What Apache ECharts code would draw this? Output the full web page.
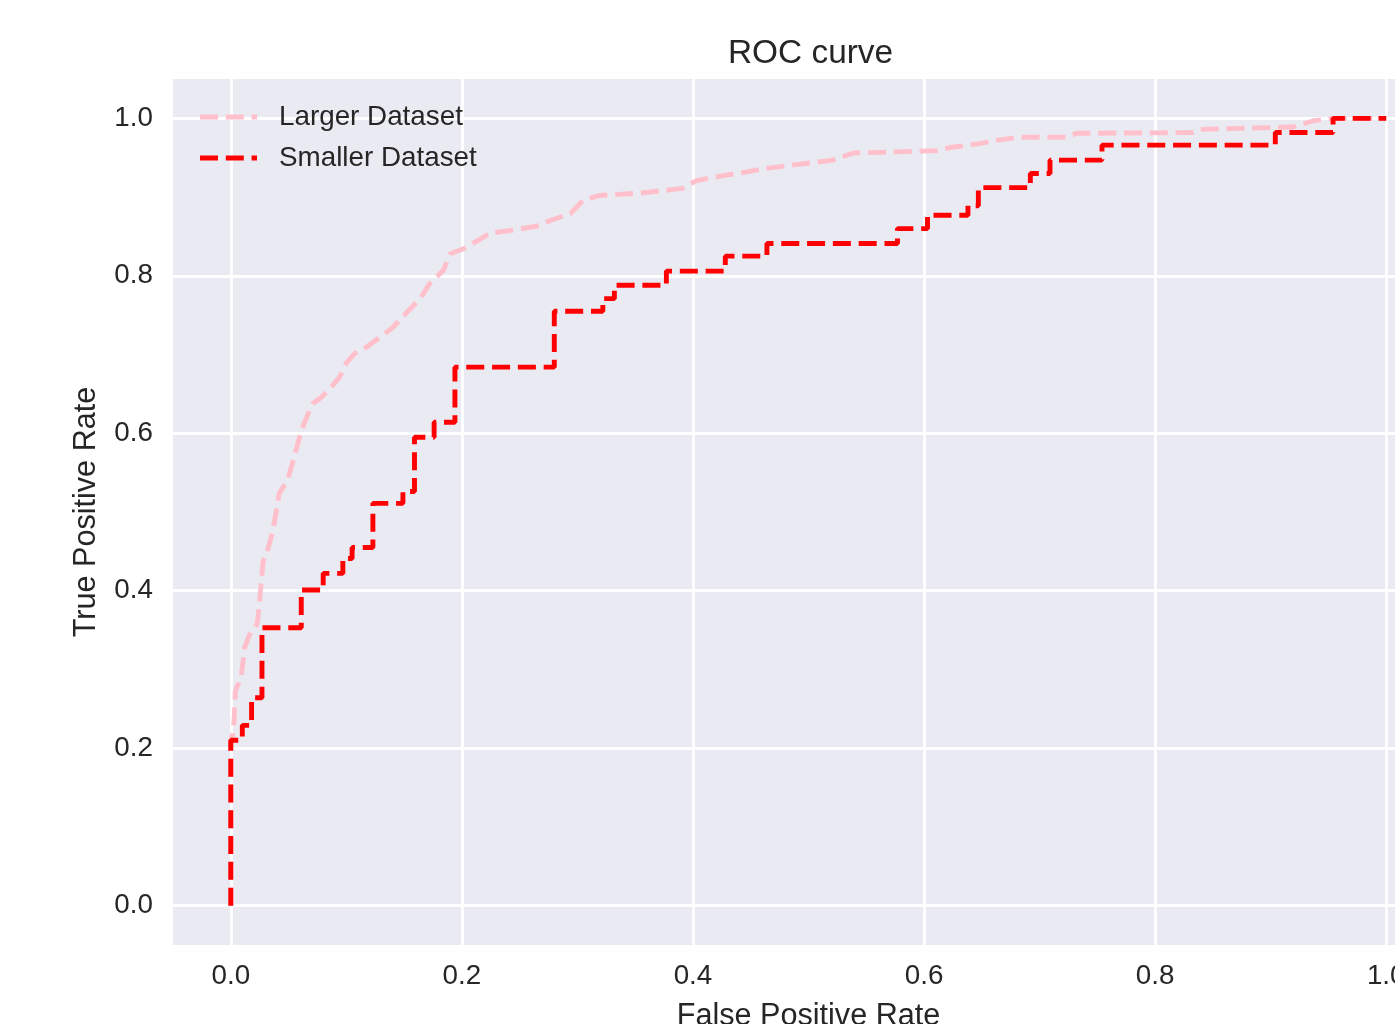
<!DOCTYPE html>
<html><head><meta charset="utf-8">
<script src="https://cdn.jsdelivr.net/npm/echarts@6/dist/echarts.min.js"></script>
<style>html,body{margin:0;padding:0;overflow:hidden;background:#fff;width:1395px;height:1024px}#c{width:1500px;height:1024px}</style>
</head><body><div id="c"></div>
<script>
const xTicks = [0, 0.2, 0.4, 0.6, 0.8, 1.0];
const yTicks = [0, 0.2, 0.4, 0.6, 0.8, 1.0];

const largerFpr = [0,0,0.002,0.003,0.004,0.009,0.012,0.017,0.023,0.026,0.028,0.030,0.035,0.038,0.042,0.049,0.054,0.058,0.062,0.067,0.071,0.078,0.086,0.094,0.100,0.107,0.117,0.129,0.140,0.152,0.164,0.172,0.184,0.190,0.204,0.224,0.244,0.268,0.276,0.294,0.305,0.319,0.354,0.391,0.403,0.429,0.443,0.461,0.499,0.521,0.539,0.565,0.611,0.623,0.648,0.663,0.681,0.724,0.732,0.833,0.839,0.865,0.919,0.937,0.954,1.0];
const largerTpr = [0,0.210,0.219,0.239,0.273,0.290,0.328,0.347,0.358,0.404,0.438,0.442,0.468,0.489,0.524,0.540,0.565,0.587,0.607,0.625,0.638,0.645,0.657,0.671,0.689,0.701,0.709,0.722,0.734,0.753,0.771,0.790,0.807,0.828,0.836,0.854,0.858,0.864,0.870,0.879,0.896,0.902,0.905,0.911,0.921,0.928,0.931,0.936,0.943,0.947,0.956,0.957,0.959,0.963,0.968,0.972,0.976,0.976,0.981,0.982,0.986,0.987,0.989,0.997,1.0,1.0];

const smallerFpr = [0,0,0.010,0.018,0.027,0.061,0.080,0.097,0.105,0.123,0.149,0.159,0.176,0.194,0.280,0.322,0.332,0.377,0.428,0.464,0.577,0.603,0.638,0.647,0.692,0.709,0.754,0.904,0.954,1.0];
const smallerTpr = [0,0.210,0.229,0.264,0.353,0.401,0.422,0.441,0.455,0.511,0.526,0.595,0.614,0.684,0.755,0.771,0.788,0.806,0.825,0.841,0.860,0.877,0.889,0.912,0.930,0.947,0.966,0.982,1.0,1.0];

const seriesNames = ['Larger Dataset', 'Smaller Dataset'];
const seriesColors = ['#FFC0CB', '#FF0000'];

const TXT = '#262626';
const FONT = '"Liberation Sans", Arial, sans-serif';
const pair = (xs, ys) => xs.map((x, i) => [x, ys[i]]);
const dashIcon = 'path://M0,0h18v5h-18z M25.8,0h18v5h-18z M51.6,0h5.4v5h-5.4z';

const chart = echarts.init(document.getElementById('c'), null, {renderer: 'canvas'});
chart.setOption({
  animation: false,
  backgroundColor: '#ffffff',
  textStyle: {fontFamily: FONT, color: TXT},
  title: {
    text: 'ROC curve', left: 723, top: 32,
    textStyle: {fontSize: 33.4, fontWeight: 'normal', color: TXT, fontFamily: FONT}
  },
  legend: {
    orient: 'vertical', left: 195, top: 98,
    itemWidth: 57, itemHeight: 5, itemGap: 13,
    textStyle: {fontSize: 27.8, color: TXT, fontFamily: FONT, lineHeight: 28, padding: [0,0,0,17]},
    data: seriesNames.map((n, i) => ({name: n, icon: dashIcon, itemStyle: {color: seriesColors[i]}}))
  },
  grid: {left: 173, top: 79, width: 1271, height: 866, containLabel: false, outerBoundsMode: 'none',
         show: true, backgroundColor: '#EAEAF2', borderWidth: 0},
  xAxis: {
    type: 'value', min: -0.05, max: 1.05,
    name: 'False Positive Rate', nameLocation: 'middle', nameGap: 56,
    nameTextStyle: {fontSize: 30.6, color: TXT, fontFamily: FONT},
    axisLine: {show: false},
    axisTick: {show: false, customValues: xTicks},
    axisLabel: {customValues: xTicks, formatter: v => v.toFixed(1), fontSize: 27.8, color: TXT, margin: 17, fontFamily: FONT},
    splitLine: {show: true, lineStyle: {color: '#ffffff', width: 2.8}}
  },
  yAxis: {
    type: 'value', min: -0.05, max: 1.05,
    name: 'True Positive Rate', nameLocation: 'middle', nameGap: 71,
    nameTextStyle: {fontSize: 30.6, color: TXT, fontFamily: FONT},
    axisLine: {show: false},
    axisTick: {show: false, customValues: yTicks},
    axisLabel: {customValues: yTicks, formatter: v => v.toFixed(1), fontSize: 27.8, color: TXT, margin: 20, fontFamily: FONT},
    splitLine: {show: true, lineStyle: {color: '#ffffff', width: 2.8}}
  },
  series: [
    {
      name: seriesNames[0], type: 'line', showSymbol: false, symbol: 'none', clip: false,
      data: pair(largerFpr, largerTpr),
      lineStyle: {color: seriesColors[0], width: 4.9, type: [18, 7.8]},
      itemStyle: {color: seriesColors[0]}
    },
    {
      name: seriesNames[1], type: 'line', showSymbol: false, symbol: 'none', clip: false, step: 'end',
      data: pair(smallerFpr, smallerTpr),
      lineStyle: {color: seriesColors[1], width: 4.9, type: [18, 7.8]},
      itemStyle: {color: seriesColors[1]}
    }
  ]
});
</script></body></html>
